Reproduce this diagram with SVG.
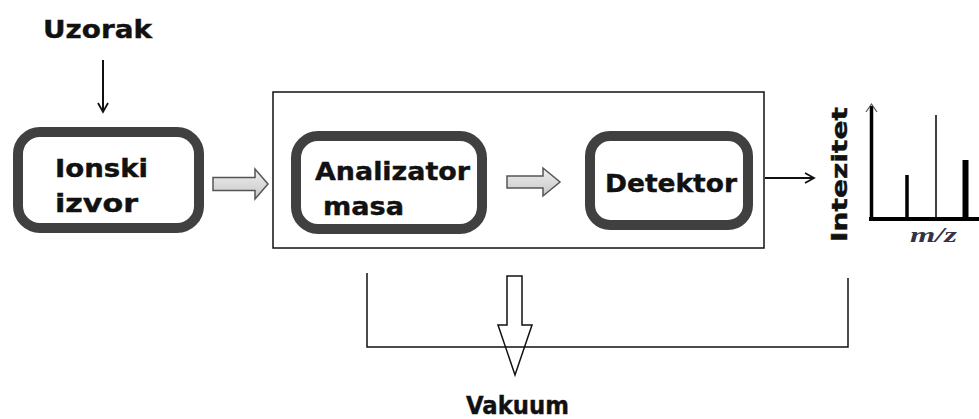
<svg xmlns="http://www.w3.org/2000/svg" width="979" height="419" viewBox="0 0 979 419">
<style>
.lbl{font-family:"DejaVu Sans",Verdana,sans-serif;font-weight:bold;fill:#111;font-size:24px;stroke:#111;stroke-width:0.4}
.box{fill:#fff;stroke:#404040;stroke-width:10}
.thin{fill:none;stroke:#111;stroke-width:1.5}
.blk{fill:none;stroke:#111;stroke-width:2}
.garrow{fill:url(#gg);stroke:#555;stroke-width:1.5}
</style>
<defs>
<linearGradient id="gg" x1="0" y1="0" x2="0" y2="1">
<stop offset="0" stop-color="#eee"/><stop offset="1" stop-color="#c8c8c8"/>
</linearGradient>
<marker id="ah" markerWidth="12" markerHeight="12" refX="10" refY="6" orient="auto" markerUnits="userSpaceOnUse">
<path d="M1,1 L10,6 L1,11" fill="none" stroke="#111" stroke-width="1.8"/>
</marker>
</defs>

<g id="uzorak"><text class="lbl" x="43" y="38" textLength="109" lengthAdjust="spacingAndGlyphs">Uzorak</text></g>

<g id="ionski-izvor">
<rect class="box" x="18" y="132" width="181" height="96" rx="22"/>
<text class="lbl" x="55" y="177" textLength="93" lengthAdjust="spacingAndGlyphs">Ionski</text>
<text class="lbl" x="55" y="212" textLength="83" lengthAdjust="spacingAndGlyphs">izvor</text>
</g>

<g id="vakuum-komora"><rect class="thin" x="273" y="92" width="491" height="156"/></g>

<g id="analizator-masa">
<rect class="box" x="296" y="136" width="186" height="93" rx="22"/>
<text class="lbl" x="315" y="180" textLength="155" lengthAdjust="spacingAndGlyphs">Analizator</text>
<text class="lbl" x="323" y="215" textLength="81" lengthAdjust="spacingAndGlyphs">masa</text>
</g>

<g id="detektor">
<rect class="box" x="590" y="136" width="158" height="89" rx="20"/>
<text class="lbl" x="605" y="192" textLength="132" lengthAdjust="spacingAndGlyphs">Detektor</text>
</g>

<g id="spektar">
<text class="lbl" x="0" y="0" transform="translate(847,242) rotate(-90)" style="font-size:22px" textLength="135" lengthAdjust="spacingAndGlyphs">Intezitet</text>
<path d="M871.5,219 V106" stroke="#000" stroke-width="3.5" fill="none"/>
<path d="M866,112 L871.5,104 L877,112" stroke="#555" stroke-width="1.2" fill="none"/>
<path d="M869,219 H979" stroke="#000" stroke-width="4" fill="none"/>
<path d="M907,219 V175" stroke="#000" stroke-width="3.5" fill="none"/>
<path d="M936,219 V115" stroke="#000" stroke-width="1.5" fill="none"/>
<path d="M965.5,219 V160" stroke="#000" stroke-width="6" fill="none"/>
<text x="910" y="242" style="font-family:'Liberation Serif',serif;font-style:italic;font-weight:bold;font-size:21px;fill:#334" textLength="47" lengthAdjust="spacingAndGlyphs">m/z</text>
</g>

<g id="vakuum">
<text class="lbl" x="466" y="414" textLength="103" lengthAdjust="spacingAndGlyphs">Vakuum</text>
</g>

<g id="connectors">
<line class="blk" x1="103" y1="60" x2="103" y2="112" marker-end="url(#ah)"/>
<path class="garrow" d="M213,177.5 H255 V169 L268,184 L255,199 V190.5 H213 Z"/>
<path class="garrow" d="M507,176 H543 V168 L560,182 L543,196 V188 H507 Z"/>
<line class="blk" x1="765" y1="178" x2="814" y2="178" marker-end="url(#ah)"/>
<path class="thin" d="M367,273 V347 H848 V278"/>
<path d="M507,276 H522 V325 H532 L515,375 L498,325 H507 Z" fill="none" stroke="#111" stroke-width="1.5"/>
</g>
</svg>
